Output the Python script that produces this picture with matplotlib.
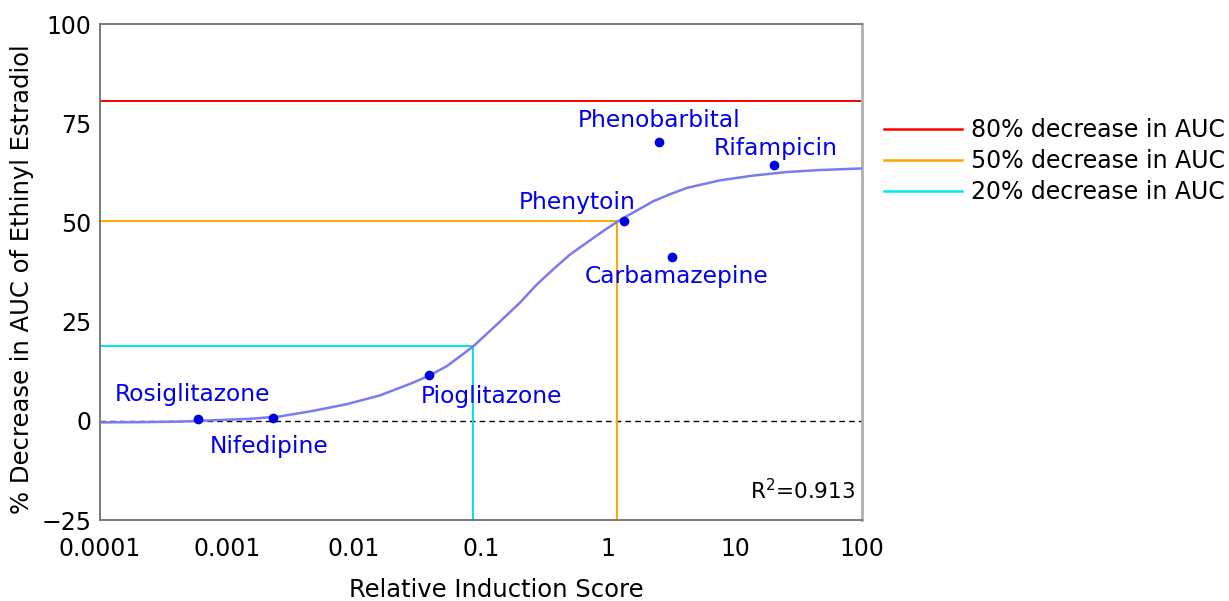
import matplotlib
matplotlib.use("Agg")
import matplotlib.pyplot as plt
from matplotlib.lines import Line2D

plt.rcParams['font.family'] = ['DejaVu Sans']

# ---- data ----
drugs = ["Rosiglitazone", "Nifedipine", "Pioglitazone", "Phenytoin",
         "Phenobarbital", "Rifampicin", "Carbamazepine"]
induction_score = [5.9e-4, 2.3e-3, 0.039, 1.33, 2.52, 20.3, 3.19]
auc_decrease = [0.5, 0.6, 11.5, 50.3, 70.2, 64.4, 41.4]

# fitted curve
curve_x = [1e-4, 2.06e-4, 4.27e-4, 8.81e-4, 1.52e-3, 2.61e-3, 4.75e-3,
           8.81e-3, 0.0160, 0.0292, 0.0397, 0.0540, 0.0865, 0.141, 0.203,
           0.276, 0.38, 0.502, 0.914, 1.24, 1.69, 2.26, 3.08, 4.19, 7.62,
           13.9, 25.7, 46.7, 100.0]
curve_y = [-0.4, -0.35, -0.2, 0.2, 0.5, 1.1, 2.5, 4.2, 6.4, 9.6, 11.5, 13.8,
           18.7, 25.0, 29.8, 34.4, 38.5, 41.9, 47.8, 50.6, 53.0, 55.3, 57.1,
           58.7, 60.6, 61.8, 62.7, 63.2, 63.6]

# threshold guides
thr_labels = ["80% decrease in AUC", "50% decrease in AUC", "20% decrease in AUC"]
thr_y = [80.5, 50.3, 18.8]
thr_x = [None, 1.18, 0.086]   # x at which the guide turns down (None = full width)
thr_colors = ["#ff0000", "#ffa500", "#00e5ee"]

xticks = [1e-4, 1e-3, 1e-2, 1e-1, 1, 10, 100]
xticklabels = ["0.0001", "0.001", "0.01", "0.1", "1", "10", "100"]
yticks = [-25, 0, 25, 50, 75, 100]
r2_text = "R$^2$=0.913"

# label anchor positions (data coords, left edge / vertical centre)
label_pos = [(1.31e-4, 6.7), (7.35e-4, -6.4), (0.0337, 6.2), (0.199, 55.0),
             (0.58, 75.6), (6.84, 68.6), (0.659, 36.4)]

# ---- figure ----
W, H = 1229, 601
fig = plt.figure(figsize=(W / 100, H / 100), dpi=100)
ax = fig.add_axes([100 / W, 1 - 520 / H, 762 / W, 496 / H])
ax.set_xscale('log')
ax.set_xlim(1e-4, 100)
ax.set_ylim(-25, 100)

# guides
for lab, yv, xv, c in zip(thr_labels, thr_y, thr_x, thr_colors):
    if xv is None:
        ax.plot([1e-4, 100], [yv, yv], color=c, lw=1.4, label=lab, zorder=2)
    else:
        ax.plot([1e-4, xv, xv], [yv, yv, -25], color=c, lw=1.4, label=lab, zorder=2)

ax.axhline(0, color='black', lw=1.0, ls=(0, (4, 3)), zorder=1)

ax.plot(curve_x, curve_y, color='#7b7bf0', lw=1.8, zorder=3,
        solid_joinstyle='round')
ax.plot(induction_score, auc_decrease, 'o', color='#0000e6', ms=7, zorder=4,
        markeredgewidth=0)

for name, (lx, ly) in zip(drugs, label_pos):
    ax.text(lx, ly, name, color='#0000ee', fontsize=16.8, ha='left', va='center',
            zorder=5)

ax.text(88, -17.5, r2_text, color='black', fontsize=15.5, ha='right', va='center')

ax.set_xticks(xticks)
ax.set_xticklabels(xticklabels)
ax.minorticks_off()
ax.set_yticks(yticks)
ax.set_yticklabels([str(v) if v >= 0 else "\u221225" for v in yticks])
ax.tick_params(axis='both', length=0, labelsize=17)
ax.tick_params(axis='x', pad=12)
ax.tick_params(axis='y', pad=6)

for s in ['left', 'bottom', 'top']:
    ax.spines[s].set_color('#707070')
    ax.spines[s].set_linewidth(1.3)
ax.spines['right'].set_color('#b0b0b0')
ax.spines['right'].set_linewidth(2.0)

ax.set_xlabel("Relative Induction Score", fontsize=17.5)
ax.xaxis.set_label_coords(0.52, -0.141)
ax.xaxis.label.set_va('center')
ax.set_ylabel("% Decrease in AUC of Ethinyl Estradiol", fontsize=17.5)
ax.yaxis.set_label_coords(-0.102, 0.486)
ax.yaxis.label.set_va('center')

handles = [Line2D([], [], color=c, lw=1.8) for c in thr_colors]
fig.legend(handles, thr_labels, loc='upper left',
           bbox_to_anchor=(884 / W, 1 - 118 / H), frameon=False,
           fontsize=17, handlelength=3.3, handletextpad=0.4, labelspacing=0.3,
           borderaxespad=0, borderpad=0)

fig.savefig("out.png", dpi=100)
